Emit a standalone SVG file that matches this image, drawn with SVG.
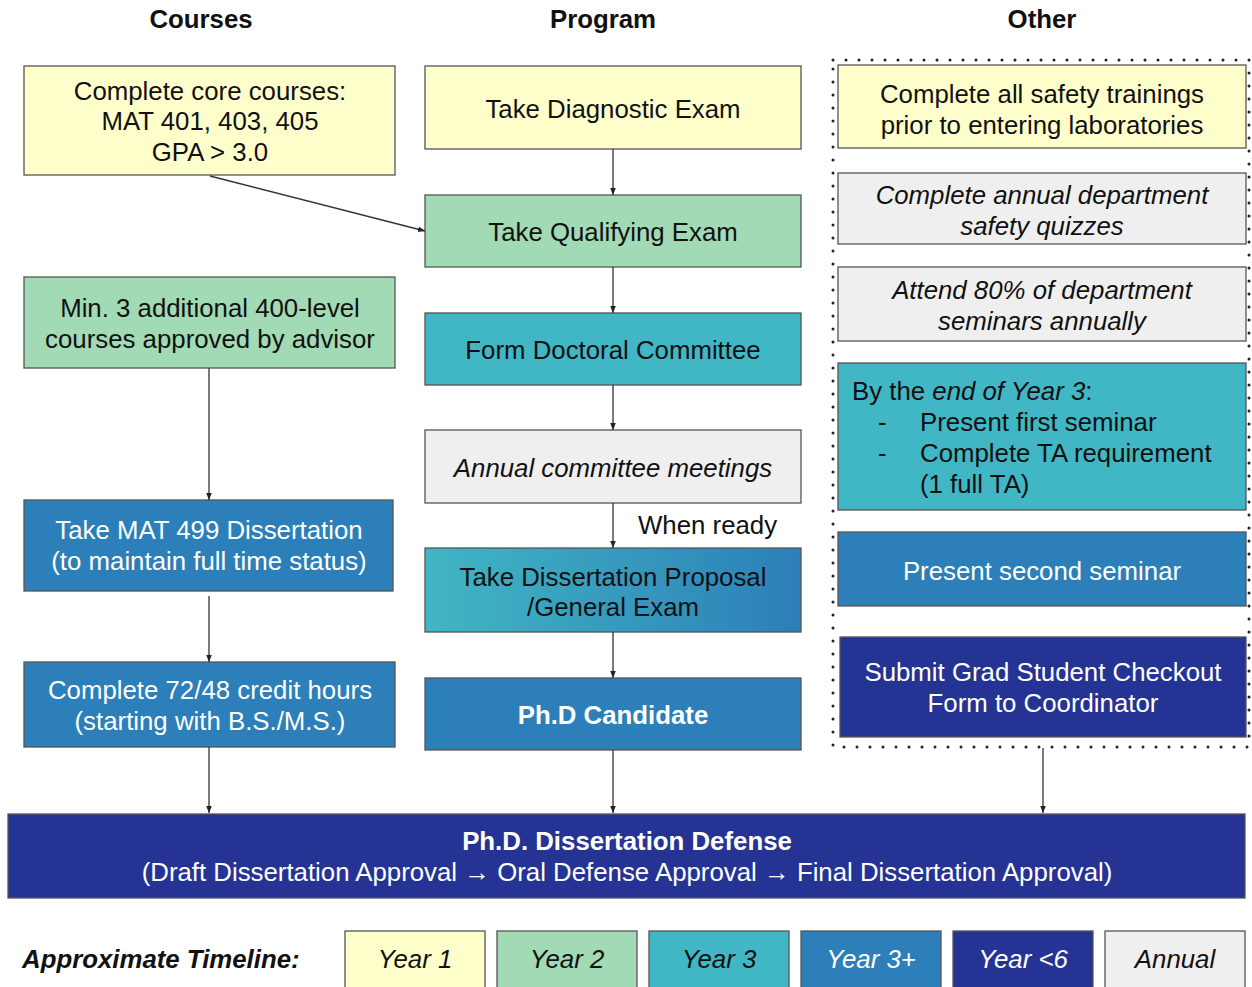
<svg xmlns="http://www.w3.org/2000/svg" width="1252" height="987" viewBox="0 0 1252 987">
<defs>
<linearGradient id="grad" x1="0" y1="0" x2="1" y2="0">
<stop offset="0" stop-color="#41b6c4"/>
<stop offset="1" stop-color="#2c7fb8"/>
</linearGradient>
<marker id="ah" viewBox="0 0 10 10" refX="10" refY="5" markerWidth="7" markerHeight="7" markerUnits="userSpaceOnUse" orient="auto">
<path d="M0,1 L10,5 L0,9 Z" fill="#222"/>
</marker>
</defs>
<style>
text{font-family:"Liberation Sans",Arial,sans-serif;font-size:25.8px;text-anchor:middle;fill:#111}
.hdr{font-weight:bold}
.w{fill:#fff}
.b{font-weight:bold}
.i{font-style:italic}
.l{text-anchor:start}
.n{stroke:#555;stroke-width:1.3}
.y1{fill:#ffffcc}.y2{fill:#a1dab4}.y3{fill:#41b6c4}.y4{fill:#2c7fb8}.y5{fill:#253494}.an{fill:#efefef}
.conn line{stroke:#333;stroke-width:1.3;marker-end:url(#ah)}
</style>
<rect width="1252" height="987" fill="#fff"/>
<g id="headers">
<text class="hdr" x="201" y="28">Courses</text>
<text class="hdr" x="603" y="28">Program</text>
<text class="hdr" x="1042" y="28">Other</text>
</g>
<rect id="other-group" x="833" y="60" width="416" height="687" fill="none" style="stroke:#222;stroke-width:3;stroke-dasharray:0 13;stroke-linecap:round"/>
<g id="core"><rect class="n y1" x="24" y="66" width="371" height="109"/>
<text x="210" y="100">Complete core courses:</text><text x="210" y="130">MAT 401, 403, 405</text><text x="210" y="161">GPA &gt; 3.0</text></g>
<g id="min3"><rect class="n y2" x="24" y="277" width="371" height="91"/>
<text x="210" y="317">Min. 3 additional 400-level</text><text x="210" y="348">courses approved by advisor</text></g>
<g id="mat499"><rect class="n y4" x="24" y="500" width="369" height="91"/>
<text class="w" x="209" y="539">Take MAT 499 Dissertation</text><text class="w" x="209" y="570">(to maintain full time status)</text></g>
<g id="credits"><rect class="n y4" x="24" y="662" width="371" height="85"/>
<text class="w" x="210" y="699">Complete 72/48 credit hours</text><text class="w" x="210" y="730">(starting with B.S./M.S.)</text></g>
<g id="diag"><rect class="n y1" x="425" y="66" width="376" height="83"/>
<text x="613" y="118">Take Diagnostic Exam</text></g>
<g id="qual"><rect class="n y2" x="425" y="195" width="376" height="72"/>
<text x="613" y="241">Take Qualifying Exam</text></g>
<g id="committee"><rect class="n y3" x="425" y="313" width="376" height="72"/>
<text x="613" y="359">Form Doctoral Committee</text></g>
<g id="annual-meet"><rect class="n an" x="425" y="430" width="376" height="73"/>
<text class="i" x="613" y="477">Annual committee meetings</text></g>
<g id="proposal"><rect class="n" x="425" y="548" width="376" height="84" fill="url(#grad)"/>
<text x="613" y="586">Take Dissertation Proposal</text><text x="613" y="616">/General Exam</text></g>
<g id="candidate"><rect class="n y4" x="425" y="678" width="376" height="72"/>
<text class="w b" x="613" y="724">Ph.D Candidate</text></g>
<g id="safety"><rect class="n y1" x="838" y="65" width="408" height="83"/>
<text x="1042" y="103">Complete all safety trainings</text><text x="1042" y="134">prior to entering laboratories</text></g>
<g id="quizzes"><rect class="n an" x="838" y="173" width="408" height="71"/>
<text class="i" x="1042" y="204">Complete annual department</text><text class="i" x="1042" y="235">safety quizzes</text></g>
<g id="seminars"><rect class="n an" x="838" y="267" width="408" height="74"/>
<text class="i" x="1042" y="299">Attend 80% of department</text><text class="i" x="1042" y="330">seminars annually</text></g>
<g id="year3"><rect class="n y3" x="838" y="363" width="408" height="147"/>
<text class="l" x="852" y="400">By the <tspan class="i">end of Year 3</tspan>:</text>
<text class="l" x="878" y="431">-</text><text class="l" x="920" y="431">Present first seminar</text>
<text class="l" x="878" y="462">-</text><text class="l" x="920" y="462">Complete TA requirement</text>
<text class="l" x="920" y="493">(1 full TA)</text></g>
<g id="second"><rect class="n y4" x="838" y="532" width="408" height="74"/>
<text class="w" x="1042" y="580">Present second seminar</text></g>
<g id="checkout"><rect class="n y5" x="840" y="637" width="406" height="100"/>
<text class="w" x="1043" y="681">Submit Grad Student Checkout</text><text class="w" x="1043" y="712">Form to Coordinator</text></g>
<g id="defense"><rect class="n y5" x="8" y="814" width="1237" height="84"/>
<text class="w b" x="627" y="850">Ph.D. Dissertation Defense</text>
<text class="w" x="627" y="881">(Draft Dissertation Approval → Oral Defense Approval → Final Dissertation Approval)</text></g>
<g id="connectors" class="conn">
<line x1="210" y1="176" x2="425" y2="231"/>
<line x1="209" y1="368" x2="209" y2="500"/>
<line x1="209" y1="596" x2="209" y2="662"/>
<line x1="209" y1="747" x2="209" y2="813"/>
<line x1="613" y1="149" x2="613" y2="195"/>
<line x1="613" y1="267" x2="613" y2="313"/>
<line x1="613" y1="385" x2="613" y2="430"/>
<line x1="613" y1="503" x2="613" y2="548"/>
<line x1="613" y1="632" x2="613" y2="678"/>
<line x1="613" y1="750" x2="613" y2="813"/>
<line x1="1043" y1="748" x2="1043" y2="813"/>
</g>
<text class="l" x="638" y="534">When ready</text>
<g id="timeline">
<text class="b i l" x="22" y="968">Approximate Timeline:</text>
<rect class="n y1" x="345" y="931" width="140" height="70"/><text class="i" x="415" y="968">Year 1</text>
<rect class="n y2" x="497" y="931" width="140" height="70"/><text class="i" x="567" y="968">Year 2</text>
<rect class="n y3" x="649" y="931" width="140" height="70"/><text class="i" x="719" y="968">Year 3</text>
<rect class="n y4" x="801" y="931" width="140" height="70"/><text class="i w" x="871" y="968">Year 3+</text>
<rect class="n y5" x="953" y="931" width="140" height="70"/><text class="i w" x="1023" y="968">Year &lt;6</text>
<rect class="n an" x="1105" y="931" width="140" height="70"/><text class="i" x="1175" y="968">Annual</text>
</g>
</svg>
